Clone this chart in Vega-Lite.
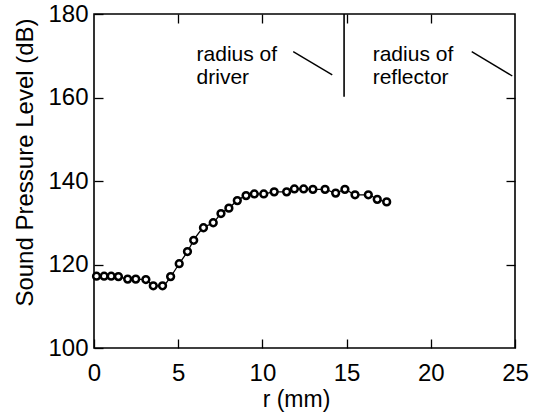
{
  "$schema": "https://vega.github.io/schema/vega-lite/v6.json",
  "width": 421,
  "height": 334,
  "autosize": "none",
  "padding": {"left": 94, "top": 14, "right": 25, "bottom": 66},
  "background": "white",
  "config": {
    "view": {"stroke": "black", "strokeWidth": 1.6},
    "font": "Liberation Sans",
    "axis": {"grid": false, "domain": false, "tickColor": "black", "tickWidth": 1.3, "tickSize": 9, "offset": -9, "labelColor": "black", "titleColor": "black", "labelFontSize": 24, "titleFontSize": 24, "titleFontWeight": "normal", "labelFlush": false}
  },
  "datasets": {
    "points": [
      {"r": 0.15, "spl": 117.2}, {"r": 0.6, "spl": 117.2}, {"r": 1.02, "spl": 117.2}, {"r": 1.45, "spl": 117.1},
      {"r": 2.0, "spl": 116.5}, {"r": 2.48, "spl": 116.5}, {"r": 3.08, "spl": 116.4}, {"r": 3.52, "spl": 114.9},
      {"r": 4.07, "spl": 114.9}, {"r": 4.55, "spl": 117.1}, {"r": 5.06, "spl": 120.2}, {"r": 5.55, "spl": 123.1},
      {"r": 5.92, "spl": 125.8}, {"r": 6.5, "spl": 128.8}, {"r": 7.08, "spl": 130.0}, {"r": 7.54, "spl": 132.2},
      {"r": 8.01, "spl": 133.5}, {"r": 8.51, "spl": 135.3}, {"r": 9.03, "spl": 136.5}, {"r": 9.52, "spl": 136.9},
      {"r": 10.08, "spl": 136.9}, {"r": 10.7, "spl": 137.4}, {"r": 11.44, "spl": 137.4}, {"r": 11.9, "spl": 138.1},
      {"r": 12.45, "spl": 138.1}, {"r": 13.0, "spl": 138.0}, {"r": 13.72, "spl": 138.0}, {"r": 14.35, "spl": 137.1},
      {"r": 14.9, "spl": 138.0}, {"r": 15.5, "spl": 136.7}, {"r": 16.29, "spl": 136.7}, {"r": 16.82, "spl": 135.6},
      {"r": 17.38, "spl": 135.0}
    ],
    "annots": [
      {"x": 6.09, "y": 168.7, "t": "radius of\ndriver"},
      {"x": 16.55, "y": 168.7, "t": "radius of\nreflector"}
    ],
    "pointers": [
      {"x": 11.83, "y": 171.0, "x2": 14.15, "y2": 165.4},
      {"x": 22.43, "y": 171.0, "x2": 24.84, "y2": 165.15}
    ],
    "vline": [
      {"x": 14.85, "y": 180, "y2": 160.2}
    ]
  },
  "layer": [
    {
      "data": {"name": "points"},
      "mark": {"type": "line", "color": "black", "strokeWidth": 1.3, "interpolate": "monotone"},
      "encoding": {
        "x": {"field": "r", "type": "quantitative", "scale": {"domain": [0, 25], "nice": false, "zero": false},
              "axis": {"orient": "bottom", "values": [0, 5, 10, 15, 20, 25], "labelPadding": 13, "title": "r (mm)", "titleX": 202, "titleY": 60, "titleBaseline": "middle", "titleAlign": "center", "titleFontSize": 23}},
        "y": {"field": "spl", "type": "quantitative", "scale": {"domain": [100, 180], "nice": false, "zero": false},
              "axis": {"orient": "left", "values": [100, 120, 140, 160, 180], "labelPadding": 6, "labelDy": 2, "title": "Sound Pressure Level (dB)", "titleX": -78, "titleY": 148, "titleBaseline": "middle", "titleAlign": "center", "titleAngle": -90}}
      }
    },
    {
      "data": {"name": "points"},
      "mark": {"type": "point", "shape": "circle", "filled": true, "fill": "white", "stroke": "black", "strokeWidth": 2.5, "size": 46, "opacity": 1},
      "encoding": {
        "x": {"field": "r", "type": "quantitative", "axis": {"orient": "top", "values": [5, 10, 15, 20], "labels": false, "title": null}},
        "y": {"field": "spl", "type": "quantitative", "axis": {"orient": "right", "values": [120, 140, 160], "labels": false, "title": null}}
      }
    },
    {
      "data": {"name": "vline"},
      "mark": {"type": "rule", "color": "black", "strokeWidth": 1.6},
      "encoding": {
        "x": {"field": "x", "type": "quantitative", "axis": null},
        "y": {"field": "y", "type": "quantitative", "axis": null},
        "y2": {"field": "y2"}
      }
    },
    {
      "data": {"name": "pointers"},
      "mark": {"type": "rule", "color": "black", "strokeWidth": 1.4},
      "encoding": {
        "x": {"field": "x", "type": "quantitative", "axis": null},
        "y": {"field": "y", "type": "quantitative", "axis": null},
        "x2": {"field": "x2"},
        "y2": {"field": "y2"}
      }
    },
    {
      "data": {"name": "annots"},
      "mark": {"type": "text", "align": "left", "baseline": "alphabetic", "fontSize": 21, "lineHeight": 22.5, "lineBreak": "\n", "color": "black", "font": "Liberation Sans"},
      "encoding": {
        "x": {"field": "x", "type": "quantitative", "axis": null},
        "y": {"field": "y", "type": "quantitative", "axis": null},
        "text": {"field": "t"}
      }
    }
  ],
  "resolve": {"axis": {"x": "independent", "y": "independent"}}
}
